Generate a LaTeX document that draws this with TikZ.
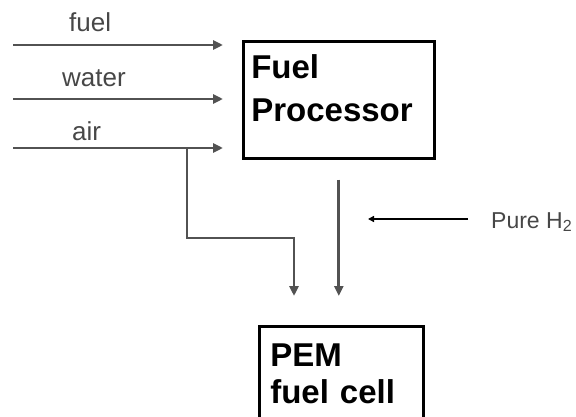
\documentclass[tikz,border=0pt]{standalone}
\usepackage{fontspec}
\setmainfont{Liberation Sans}
\usetikzlibrary{positioning,arrows.meta,calc}

\begin{document}
\begin{tikzpicture}[
  x=1pt,y=-1pt,
  unit/.style ={draw,line width=2.6pt,inner ysep=0pt,align=left,anchor=north west,font=\bfseries\fontsize{33}{43}\selectfont},
  tag/.style  ={inner sep=0pt,anchor=base west,text=black!72,font=\fontsize{26}{26}\selectfont},
  flow/.style ={-{Triangle[length=10pt,width=9pt]},line width=2.8pt,black!68},
  feed/.style ={-{Triangle[length=6pt,width=6pt]},line width=1.6pt,black}
]
\useasboundingbox (0,0) rectangle (576,417);
% Units: fuel processor on top, fuel cell below (cut by the page edge)
\node[unit,minimum width=191pt,inner xsep=8pt,text width=175pt,text height=37pt,text depth=80pt] (fp) at (242,40) {Fuel\\Processor};
\node[unit,minimum width=164pt,inner xsep=11pt,text width=142pt,text height=40pt,text depth=67pt,font=\bfseries\fontsize{33}{37}\selectfont] (pem) at (258,325) {PEM\\fuel cell};
% Feed streams
\coordinate (fuelin)  at (13,45);
\coordinate (waterin) at (13,99);
\coordinate (airin)   at (13,148);
\coordinate (airtap)  at (187,148);
\coordinate (airbend) at (294,238);
\node[tag] (lfuel)  at (69,32)  {fuel};
\node[tag] (lwater) at (62,87)  {water};
\node[tag] (lair)   at (72,141) {air};
\draw[flow,shorten >=19pt] (fuelin)  -- (fuelin -| fp.west);
\draw[flow,shorten >=19pt] (waterin) -- (waterin -| fp.west);
\draw[flow,shorten >=19pt] (airin)   -- (airin -| fp.west);
\draw[flow,shorten >=29pt] (airtap) |- (airbend) -- (airbend |- pem.north);
\draw[flow,shorten <=20pt,shorten >=29pt] (fp.south) -- (fp.south |- pem.north);
% Pure hydrogen feed
\node[tag,font=\fontsize{23}{23}\selectfont] (pure) at (491,228) {Pure H\textsubscript{2}};
\coordinate (h2tip) at (368,219);
\draw[feed] ([xshift=-23pt]pure.west |- h2tip) -- (h2tip);
\end{tikzpicture}
\end{document}
